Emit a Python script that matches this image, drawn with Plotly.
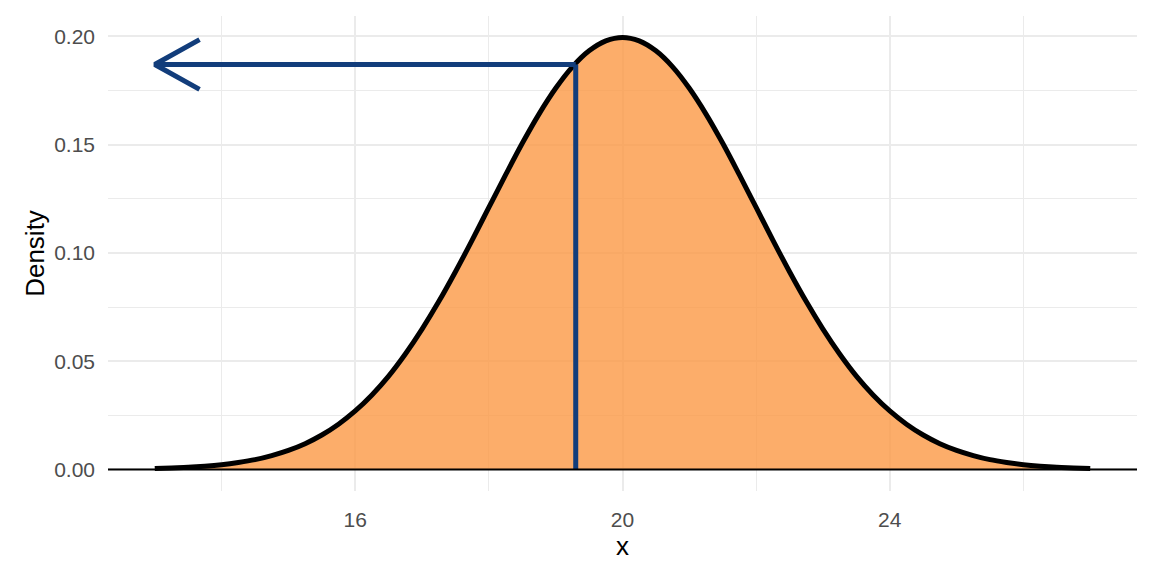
import plotly.graph_objects as go

# Density curve values (normal shape, centred at 20)
x_vals = [13.0, 13.25, 13.5, 13.75, 14.0, 14.25, 14.5, 14.75, 15.0, 15.25, 15.5, 15.75,
          16.0, 16.25, 16.5, 16.75, 17.0, 17.25, 17.5, 17.75, 18.0, 18.25, 18.5, 18.75,
          19.0, 19.25, 19.5, 19.75, 20.0, 20.25, 20.5, 20.75, 21.0, 21.25, 21.5, 21.75,
          22.0, 22.25, 22.5, 22.75, 23.0, 23.25, 23.5, 23.75, 24.0, 24.25, 24.5, 24.75,
          25.0, 25.25, 25.5, 25.75, 26.0, 26.25, 26.5, 26.75, 27.0]
density = [0.0004, 0.0007, 0.0010, 0.0015, 0.0022, 0.0032, 0.0045, 0.0064, 0.0088, 0.0119,
           0.0159, 0.0209, 0.0270, 0.0344, 0.0431, 0.0533, 0.0648, 0.0775, 0.0913, 0.1059,
           0.1210, 0.1360, 0.1506, 0.1641, 0.1760, 0.1859, 0.1933, 0.1979, 0.1995, 0.1979,
           0.1933, 0.1859, 0.1760, 0.1641, 0.1506, 0.1360, 0.1210, 0.1059, 0.0913, 0.0775,
           0.0648, 0.0533, 0.0431, 0.0344, 0.0270, 0.0209, 0.0159, 0.0119, 0.0088, 0.0064,
           0.0045, 0.0032, 0.0022, 0.0015, 0.0010, 0.0007, 0.0004]

# Marked value and its density
marked_x = 19.3
marked_density = 0.187
arrow_end_x = 13.0

x_ticks = [16, 20, 24]
x_minor = [14, 18, 22, 26]
y_ticks = [0.0, 0.05, 0.10, 0.15, 0.20]
y_tick_labels = ["0.00", "0.05", "0.10", "0.15", "0.20"]
y_minor = [0.025, 0.075, 0.125, 0.175]

# style
blue = "#123D7B"
head_dx = 0.67
head_dy = 0.0115

fig = go.Figure()

fig.add_trace(go.Scatter(
    x=x_vals, y=density, mode="lines", line=dict(color="black", width=5, shape="spline"),
    fill="tozeroy", fillcolor="rgba(251,152,69,0.8)", hoverinfo="skip", showlegend=False))

# vertical line
fig.add_trace(go.Scatter(
    x=[marked_x, marked_x], y=[0, marked_density], mode="lines",
    line=dict(color=blue, width=5), showlegend=False))
# horizontal arrow shaft
fig.add_trace(go.Scatter(
    x=[marked_x, arrow_end_x], y=[marked_density, marked_density], mode="lines",
    line=dict(color=blue, width=5), showlegend=False))
# arrow head (open chevron)
fig.add_trace(go.Scatter(
    x=[arrow_end_x + head_dx, arrow_end_x, arrow_end_x + head_dx],
    y=[marked_density + head_dy, marked_density, marked_density - head_dy],
    mode="lines", line=dict(color=blue, width=5), showlegend=False))

fig.add_shape(type="line", xref="paper", x0=0, x1=1, yref="y", y0=0, y1=0,
              line=dict(color="black", width=2), layer="above")

font_family = "Liberation Sans, Arial, sans-serif"
fig.update_layout(
    width=1152, height=576,
    margin=dict(l=100, r=23, t=8, b=93),
    paper_bgcolor="white", plot_bgcolor="white",
    font=dict(family=font_family),
    xaxis=dict(range=[12.3, 27.7], tickvals=x_ticks, ticktext=[str(v) for v in x_ticks],
               showgrid=True, gridcolor="#EBEBEB", gridwidth=2, zeroline=False,
               showline=False, ticks="", tickfont=dict(size=21, color="#4D4D4D"),
               ticklabelstandoff=14,
               title=dict(text="x", font=dict(size=26, color="black"), standoff=4),
               minor=dict(tickvals=x_minor, showgrid=True, gridcolor="#EBEBEB", gridwidth=1)),
    yaxis=dict(range=[-0.00997, 0.2094], tickvals=y_ticks, ticktext=y_tick_labels,
               showgrid=True, gridcolor="#EBEBEB", gridwidth=2, zeroline=False,
               showline=False, ticks="", tickfont=dict(size=21, color="#4D4D4D"),
               ticklabelstandoff=12,
               title=dict(text="Density", font=dict(size=26, color="black"), standoff=2),
               minor=dict(tickvals=y_minor, showgrid=True, gridcolor="#EBEBEB", gridwidth=1)),
)

fig.write_html("out.html")
